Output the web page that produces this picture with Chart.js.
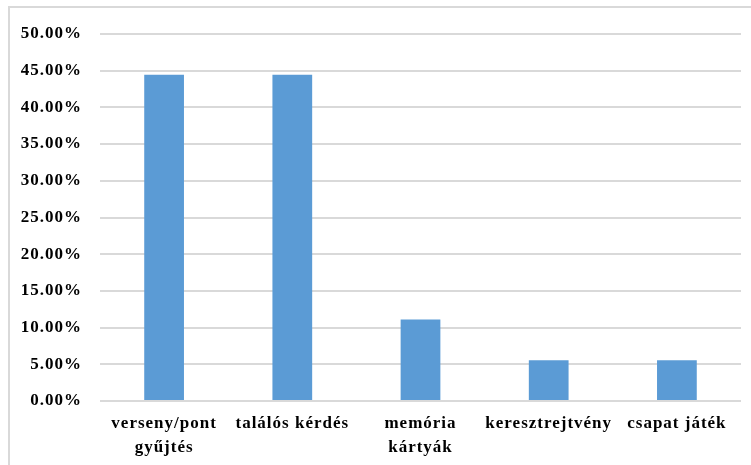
<!DOCTYPE html>
<html>
<head>
<meta charset="utf-8">
<script src="https://cdn.jsdelivr.net/npm/chart.js@4"></script>
<style>
  body { margin: 0; background: #fff; }
  #wrap { position: relative; width: 751px; height: 465px; overflow: hidden; }
  #frame { position: absolute; left: 8px; top: 6px; width: 760px; height: 480px; border: 2px solid #d9d9d9; box-sizing: border-box; pointer-events: none; }
</style>
</head>
<body>
<div id="wrap">
  <canvas id="chart" width="751" height="465"></canvas>
  <div id="frame"></div>
</div>
<script>
// Data
const categories = [
  ["verseny/pont", "gyűjtés"],
  "találós kérdés",
  ["memória", "kártyák"],
  "keresztrejtvény",
  "csapat játék"
];
const shares = [44.44, 44.44, 11.11, 5.56, 5.56];
const yTicks = { min: 0, max: 50, step: 5 };

const font = { family: "'Liberation Serif', 'Times New Roman', serif", weight: "bold", size: 17 };

// the original labels are slightly spaced out; canvas resize resets this, so set it on every update/draw
const spacing = {
  id: "spacing",
  beforeUpdate: c => { c.ctx.letterSpacing = "1px"; },
  beforeDraw: c => { c.ctx.letterSpacing = "1px"; }
};

const ctx = document.getElementById("chart").getContext("2d");
new Chart(ctx, {
  type: "bar",
  data: {
    labels: categories,
    datasets: [{
      data: shares,
      backgroundColor: "#5b9bd5",
      categoryPercentage: 1,
      barPercentage: 0.31
    }]
  },
  options: {
    responsive: false,
    animation: false,
    layout: { padding: { left: 0, right: 10, top: 34, bottom: 0 } },
    plugins: { legend: { display: false }, tooltip: { enabled: false } },
    scales: {
      x: {
        grid: { display: false },
        border: { display: false },
        ticks: { color: "#000", padding: 3, maxRotation: 0, autoSkip: false, font: { ...font, lineHeight: 1.4 } },
        afterFit: s => { s.height = 64; }
      },
      y: {
        min: yTicks.min,
        max: yTicks.max,
        ticks: {
          stepSize: yTicks.step,
          color: "#000",
          padding: 18,
          font: font,
          callback: v => v.toFixed(2) + "%"
        },
        grid: { color: "#d9d9d9", lineWidth: 2, drawTicks: false },
        border: { display: false },
        afterFit: s => { s.width = 100; }
      }
    }
  },
  plugins: [spacing]
});
</script>
</body>
</html>
